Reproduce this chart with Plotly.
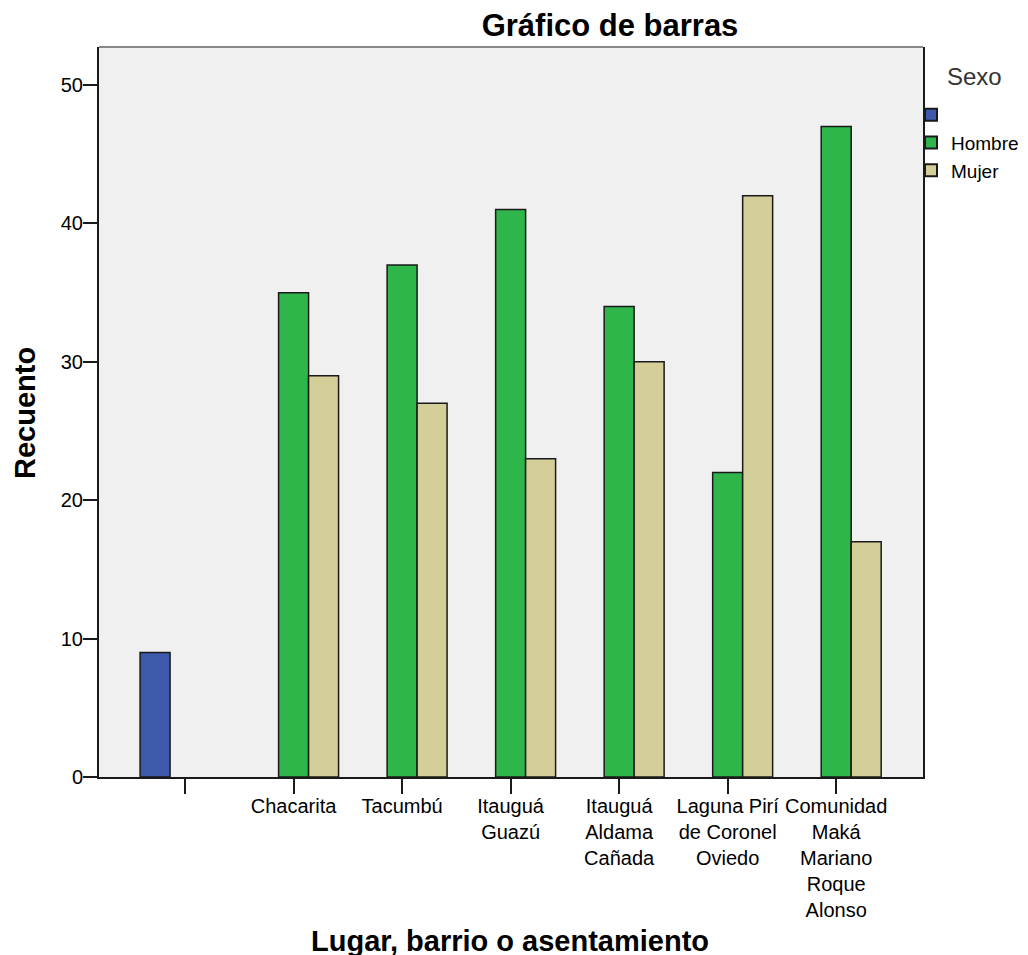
import plotly.graph_objects as go

# Data
categories = [" ", "Chacarita", "Tacumbú", "Itauguá<br>Guazú", "Itauguá<br>Aldama<br>Cañada",
              "Laguna Pirí<br>de Coronel<br>Oviedo", "Comunidad<br>Maká<br>Mariano<br>Roque<br>Alonso"]
blank_cats = [" "]
blank_vals = [9]
hombre_cats = categories[1:]
hombre_vals = [35, 37, 41, 34, 22, 47]
mujer_cats = categories[1:]
mujer_vals = [29, 27, 23, 30, 42, 17]
y_ticks = [0, 10, 20, 30, 40, 50]

FONT = "Liberation Sans, Arial, sans-serif"
line = dict(color="#1a1a1a", width=1.5)

fig = go.Figure()
fig.add_trace(go.Bar(x=blank_cats, y=blank_vals, name="", marker=dict(color="#3e58ac", line=line)))
fig.add_trace(go.Bar(x=hombre_cats, y=hombre_vals, name="Hombre", marker=dict(color="#2fb64a", line=line)))
fig.add_trace(go.Bar(x=mujer_cats, y=mujer_vals, name="Mujer", marker=dict(color="#d4ce98", line=line)))

W, H = 1021, 948  # page body adds a small offset
fig.update_layout(
    width=W, height=H,
    margin=dict(l=91, r=106, t=39, b=179, autoexpand=False),
    paper_bgcolor="white",
    plot_bgcolor="#f0f0f0",
    barmode="group",
    bargap=0.171,
    bargroupgap=0,
    font=dict(family=FONT, color="#000", size=20),
    title=dict(text="<b>Gráfico de barras</b>", x=(609 - 98) / 824, xref="paper", xanchor="center",
               y=1 - 17 / H, yref="container", yanchor="middle",
               font=dict(size=31, family=FONT, color="#000")),
    showlegend=True,
    legend=dict(x=903 / W, xref="container", xanchor="left",
                y=1 - 88 / H, yref="container", yanchor="top",
                bgcolor="rgba(0,0,0,0)", font=dict(size=19, family=FONT, color="#000"),
                tracegroupgap=0, itemsizing="constant"),
)

fig.update_xaxes(
    type="category", categoryorder="array", categoryarray=categories,
    range=[-0.793, 6.80],
    showline=True, linecolor="#1a1a1a", linewidth=2,
    ticks="outside", ticklen=15, tickwidth=1.5, tickcolor="#1a1a1a",
    showgrid=False, zeroline=False, ticklabelstandoff=-5,
    tickfont=dict(size=20, family=FONT, color="#000"),
)
fig.update_yaxes(
    range=[0, 52.75], tickvals=y_ticks,
    showline=True, linecolor="#1a1a1a", linewidth=2, mirror=True,
    ticks="outside", ticklen=14, tickwidth=1.5, tickcolor="#1a1a1a",
    showgrid=False, zeroline=False, ticklabelstandoff=-4,
    tickfont=dict(size=20, family=FONT, color="#000"),
)

# top frame line
fig.add_shape(type="line", xref="paper", yref="paper", x0=0, x1=1, y0=1, y1=1,
              line=dict(color="#888", width=2))

def px(sx):
    return (sx - 98) / 824

def py(sy):
    return 1 - (sy - 46) / 730

fig.add_annotation(text="Sexo", xref="paper", yref="paper",
                   x=px(973), y=py(75), xanchor="center", yanchor="middle",
                   showarrow=False, font=dict(size=24, family=FONT, color="#333"))
fig.add_annotation(text="<b>Recuento</b>", xref="paper", yref="paper",
                   x=px(24), y=py(412), xanchor="center", yanchor="middle",
                   textangle=-90, showarrow=False, font=dict(size=29, family=FONT, color="#000"))
fig.add_annotation(text="<b>Lugar, barrio o asentamiento</b>", xref="paper", yref="paper",
                   x=px(509), y=py(940), xanchor="center", yanchor="middle",
                   showarrow=False, font=dict(size=29, family=FONT, color="#000"))

fig.write_html("out.html")
